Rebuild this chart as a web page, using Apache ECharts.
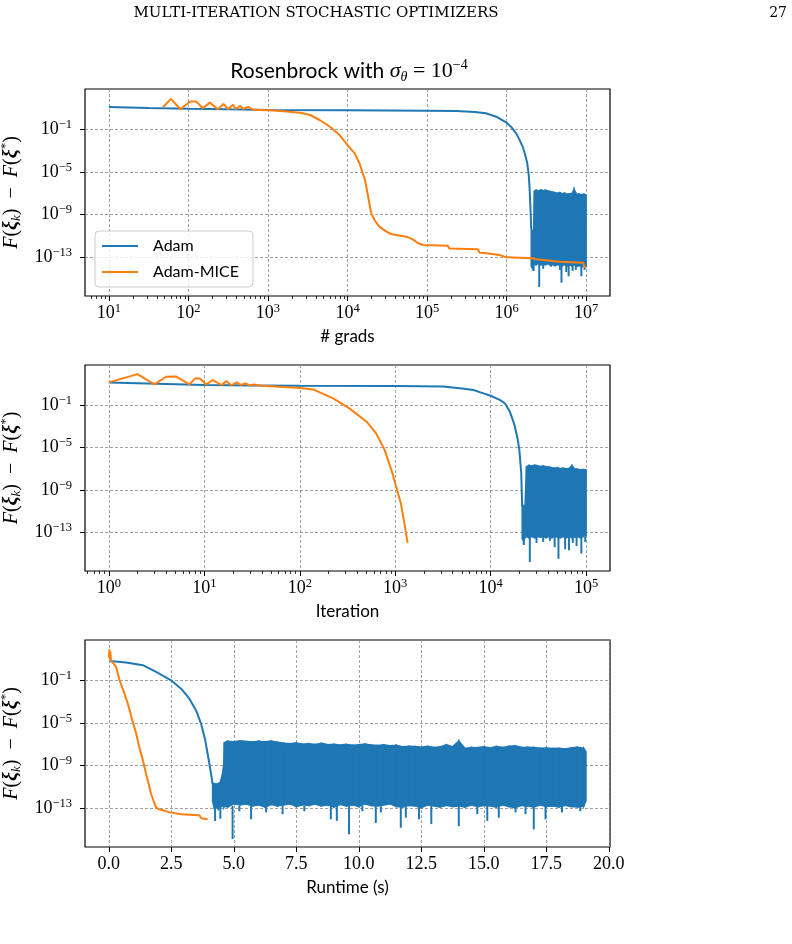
<!DOCTYPE html>
<html>
<head>
<meta charset="utf-8">
<script src="https://cdn.jsdelivr.net/npm/echarts@6/dist/echarts.min.js"></script>
<style>
  html, body { margin: 0; padding: 0; background: #fff; }
  #main { width: 792px; height: 944px; }
</style>
</head>
<body>
<div id="main"></div>
<script>
// all y values are log10(F(xi_k) - F(xi*)); x values of the two upper panels are log10 too

// panel 1: # grads
var gradsAdamX = [1.0, 1.5, 2.0, 2.5, 3.0, 4.0, 5.0, 5.37, 5.6, 5.74, 5.87, 6.0, 6.06, 6.12, 6.16, 6.2, 6.23, 6.26, 6.28, 6.29, 6.3, 6.31];
var gradsAdamY = [1.09, 1.0, 0.93, 0.87, 0.82, 0.78, 0.75, 0.72, 0.62, 0.5, 0.18, -0.38, -0.8, -1.38, -1.95, -2.6, -3.3, -4.2, -5.4, -6.7, -8.4, -10.3];
var gradsMiceX = [1.68, 1.78, 1.9, 2.02, 2.1, 2.18, 2.27, 2.37, 2.44, 2.5, 2.56, 2.6, 2.65, 2.69, 2.75, 2.81, 2.9, 3.0, 3.2, 3.4, 3.53, 3.65, 3.78, 3.9, 4.0, 4.09, 4.15, 4.22, 4.26, 4.29, 4.3, 4.34, 4.4, 4.49, 4.55, 4.61, 4.74, 4.82, 4.89, 4.95, 5.26, 5.28, 5.64, 5.66, 5.75, 5.91, 6.0, 6.33, 6.37, 6.67, 6.96, 6.98, 7.0];
var gradsMiceY = [1.07, 1.85, 0.88, 1.6, 1.6, 0.97, 1.5, 0.88, 1.38, 0.9, 1.3, 0.9, 1.2, 0.9, 1.1, 0.85, 0.82, 0.78, 0.7, 0.55, 0.34, -0.13, -0.76, -1.54, -2.48, -3.26, -4.19, -5.76, -7.33, -8.58, -8.89, -9.52, -10.14, -10.61, -10.83, -10.92, -11.08, -11.33, -11.7, -11.86, -11.93, -12.18, -12.27, -12.58, -12.64, -12.8, -13.02, -13.1, -13.2, -13.43, -13.52, -13.9, -13.9];
var gradsBandX = [6.31, 6.325, 6.34, 6.35, 6.37, 6.40, 6.43, 6.46, 6.49, 6.52, 6.55, 6.58, 6.61, 6.64, 6.67, 6.70, 6.73, 6.76, 6.79, 6.82, 6.85, 6.88, 6.91, 6.94, 6.97, 7.0];
var gradsBandTop = [-10.3, -10.6, -10.4, -6.8, -6.72, -6.78, -6.7, -6.76, -6.72, -6.8, -6.85, -6.9, -6.95, -7.0, -6.95, -7.05, -7.0, -7.1, -7.05, -7.05, -6.65, -7.1, -7.08, -7.15, -7.1, -7.2];
var gradsBandBot = [-13.9, -14.0, -13.7, -13.6, -13.7, -13.6, -13.7, -13.65, -13.7, -13.6, -13.75, -13.7, -13.8, -13.7, -13.75, -13.8, -13.7, -13.8, -13.75, -13.8, -13.7, -13.85, -13.8, -13.9, -13.8, -13.9];
var gradsSpikeX = [6.34, 6.41, 6.46, 6.56, 6.67, 6.69, 6.75, 6.78, 6.83, 6.87, 6.94, 6.98];
var gradsSpikeY = [-14.3, -15.8, -14.1, -13.9, -14.2, -15.4, -14.4, -14.8, -14.3, -14.2, -14.8, -14.2];

// panel 2: iteration
var iterAdamX = [0, 0.5, 1.0, 1.5, 2.0, 3.0, 3.5, 3.7, 3.82, 3.9, 4.0, 4.1, 4.15, 4.2, 4.25, 4.28, 4.3, 4.32, 4.33];
var iterAdamY = [1.14, 1.02, 0.89, 0.85, 0.82, 0.8, 0.76, 0.57, 0.42, 0.17, -0.12, -0.53, -0.85, -1.6, -2.9, -4.1, -5.2, -7.4, -10.6];
var iterMiceX = [0, 0.3, 0.477, 0.6, 0.7, 0.845, 0.9, 0.954, 1.02, 1.09, 1.18, 1.23, 1.28, 1.34, 1.38, 1.43, 1.48, 1.52, 1.6, 2.0, 2.14, 2.35, 2.52, 2.7, 2.8, 2.89, 2.96, 3.01, 3.06, 3.09, 3.13];
var iterMiceY = [1.14, 1.92, 0.95, 1.67, 1.7, 0.95, 1.5, 1.5, 0.95, 1.36, 0.89, 1.26, 0.86, 1.14, 0.89, 1.05, 0.85, 0.95, 0.82, 0.62, 0.48, -0.37, -1.31, -2.57, -3.67, -5.25, -7.13, -8.7, -10.3, -11.85, -13.99];
var iterBandX = [4.33, 4.345, 4.36, 4.375, 4.40, 4.43, 4.46, 4.49, 4.52, 4.55, 4.58, 4.61, 4.64, 4.67, 4.70, 4.73, 4.76, 4.79, 4.82, 4.85, 4.88, 4.91, 4.94, 4.97, 5.0];
var iterBandTop = [-10.6, -10.5, -10.6, -6.8, -6.7, -6.75, -6.68, -6.72, -6.8, -6.75, -6.82, -6.85, -6.9, -6.95, -6.9, -7.0, -6.95, -7.0, -6.98, -6.72, -7.02, -7.05, -7.1, -7.08, -7.12];
var iterBandBot = [-13.6, -13.8, -13.5, -13.4, -13.5, -13.4, -13.5, -13.4, -13.45, -13.4, -13.5, -13.4, -13.5, -13.4, -13.45, -13.5, -13.4, -13.5, -13.4, -13.5, -13.45, -13.4, -13.5, -13.4, -13.3];
var iterSpikeX = [4.347, 4.41, 4.48, 4.55, 4.62, 4.67, 4.71, 4.78, 4.82, 4.86, 4.90, 4.95, 4.99];
var iterSpikeY = [-14.2, -15.8, -14.0, -13.9, -13.8, -14.4, -15.5, -14.6, -14.7, -14.0, -14.3, -15.0, -13.9];

// panel 3: runtime (s)
var timeAdamX = [0.03, 0.69, 1.36, 1.89, 2.49, 2.89, 3.22, 3.49, 3.69, 3.86, 4.0, 4.11, 4.15];
var timeAdamY = [0.82, 0.67, 0.42, -0.22, -1.0, -1.79, -2.73, -3.83, -5.09, -6.66, -8.55, -10.1, -10.75];
var timeMiceX = [0, 0.02, 0.04, 0.06, 0.08, 0.1, 0.29, 0.43, 0.6, 0.76, 0.92, 1.09, 1.22, 1.36, 1.49, 1.6, 1.69, 1.8, 1.89, 2.0, 2.16, 2.43, 2.89, 3.62, 3.7, 3.75, 3.95];
var timeMiceY = [1.14, 1.9, 0.95, 1.7, 0.9, 0.78, 0.25, -1.0, -2.1, -3.2, -4.6, -6.0, -7.3, -8.5, -9.8, -10.8, -11.7, -12.4, -12.95, -13.1, -13.2, -13.4, -13.58, -13.68, -13.95, -13.95, -14.04];
var timeBandX = [4.15, 4.22, 4.3, 4.38, 4.46, 4.54, 4.6, 4.62, 4.75, 5.0, 5.25, 5.5, 5.75, 6.0, 6.25, 6.5, 6.75, 7.0, 7.25, 7.5, 7.75, 8.0, 8.25, 8.5, 8.75, 9.0, 9.25, 9.5, 9.75, 10.0, 10.25, 10.5, 10.75, 11.0, 11.25, 11.5, 11.75, 12.0, 12.25, 12.5, 12.75, 13.0, 13.25, 13.5, 13.75, 14.0, 14.25, 14.5, 14.75, 15.0, 15.25, 15.5, 15.75, 16.0, 16.25, 16.5, 16.75, 17.0, 17.25, 17.5, 17.75, 18.0, 18.25, 18.5, 18.75, 19.0, 19.09];
var timeBandTop = [-10.75, -10.7, -10.75, -10.7, -10.55, -9.9, -8.8, -6.85, -6.72, -6.78, -6.68, -6.75, -6.8, -6.72, -6.78, -6.7, -6.82, -6.9, -6.95, -6.88, -7.0, -6.95, -7.02, -6.92, -7.05, -7.0, -7.08, -7.02, -7.1, -7.05, -6.98, -7.08, -7.12, -7.05, -7.15, -7.1, -7.25, -7.2, -7.22, -7.28, -7.2, -7.3, -7.25, -7.05, -7.25, -6.7, -7.4, -7.3, -7.32, -7.25, -7.35, -7.22, -7.3, -7.2, -7.15, -7.3, -7.28, -7.3, -7.38, -7.35, -7.4, -7.38, -7.45, -7.35, -7.28, -7.4, -7.7];
var timeBandBot = [-12.4, -13.0, -12.9, -13.1, -12.9, -12.8, -12.9, -12.8, -12.9, -12.6, -12.7, -12.6, -12.8, -12.7, -12.9, -12.65, -12.8, -12.7, -12.6, -12.85, -12.7, -12.75, -12.6, -12.8, -12.7, -12.9, -12.65, -12.8, -12.7, -12.85, -12.6, -12.75, -12.8, -12.7, -12.6, -12.85, -12.9, -12.75, -12.8, -12.95, -12.7, -12.8, -12.9, -12.75, -12.85, -12.8, -12.9, -12.7, -12.85, -12.75, -12.8, -12.9, -12.7, -12.85, -12.95, -12.75, -12.8, -12.9, -12.7, -12.85, -12.8, -12.9, -12.75, -12.85, -12.9, -12.8, -12.3];
var timeSpikeX = [4.25, 4.46, 4.95, 5.22, 5.69, 6.29, 6.95, 7.82, 8.88, 9.12, 9.61, 10.14, 10.68, 10.88, 11.68, 11.88, 12.41, 12.9, 14.0, 14.74, 15.14, 15.6, 16.27, 16.67, 17.0, 17.47, 18.13, 18.86];
var timeSpikeY = [-14.2, -14.0, -15.9, -13.3, -14.05, -13.4, -13.57, -13.3, -14.05, -14.2, -15.46, -13.3, -14.4, -13.4, -14.84, -13.9, -14.05, -14.5, -14.7, -13.57, -14.2, -13.9, -13.4, -13.57, -15.0, -14.05, -13.4, -13.3];

// ticks
var gradsTicks = [1, 2, 3, 4, 5, 6, 7];
var iterTicks = [0, 1, 2, 3, 4, 5];
var timeTicks = [0, 2.5, 5, 7.5, 10, 12.5, 15, 17.5, 20];
var yTicks = [-13, -9, -5, -1];

var C_ADAM = '#1f77b4';
var C_MICE = '#ff7f0e';
var SERIF = '"Liberation Serif", "DejaVu Serif", serif';
var SANS = 'Lato, "Open Sans", sans-serif';
var YMIN = -16.65, YMAX = 2.78;

function pairs(xs, ys) { return xs.map(function (x, i) { return [x, ys[i]]; }); }
function triples(xs, a, b) { return xs.map(function (x, i) { return [x, a[i], b[i]]; }); }

function minorTicks(lo, hi) {
    var out = [];
    for (var n = Math.floor(lo); n <= Math.ceil(hi); n++) {
        for (var k = 2; k <= 9; k++) {
            var v = n + Math.log10(k);
            if (v > lo && v < hi) out.push(v);
        }
    }
    return out;
}

function powLabel(v) {
    var e = Math.round(v);
    return '{b|10}{s|' + (e < 0 ? '\u2212' + (-e) : e) + '}';
}
var powRich = {
    b: { fontFamily: SERIF, fontSize: 18, color: '#000', lineHeight: 22 },
    s: { fontFamily: SERIF, fontSize: 12.5, color: '#000', lineHeight: 12, verticalAlign: 'top' }
};
var gridLine = { show: true, lineStyle: { color: '#8a8a8a', type: [3, 2], width: 0.8 } };

function majorX(g, min, max, ticks, fmt, name) {
    return {
        type: 'value', gridIndex: g, min: min, max: max, position: 'bottom',
        name: name, nameLocation: 'middle', nameGap: 32,
        nameTextStyle: { fontFamily: SANS, fontSize: 17, color: '#000' },
        axisLine: { show: false, onZero: false },
        axisTick: { show: true, length: 5, customValues: ticks, lineStyle: { color: '#000', width: 1 } },
        axisLabel: { customValues: ticks, formatter: fmt, rich: powRich, margin: 6, color: '#000', fontFamily: SERIF, fontSize: 18, lineHeight: 22 },
        splitLine: gridLine
    };
}
function minorX(g, min, max) {
    return {
        type: 'value', gridIndex: g, min: min, max: max, position: 'bottom',
        axisLine: { show: false, onZero: false },
        axisTick: { show: true, length: 3, customValues: minorTicks(min, max), lineStyle: { color: '#000', width: 0.8 } },
        axisLabel: { show: false },
        splitLine: { show: false }
    };
}
var yNameRich = {
    i: { fontFamily: SERIF, fontStyle: 'italic', fontSize: 20, lineHeight: 24, color: '#000' },
    r: { fontFamily: SERIF, fontSize: 20, lineHeight: 24, color: '#000' },
    bi: { fontFamily: SERIF, fontStyle: 'italic', fontWeight: 'bold', fontSize: 20, lineHeight: 24, color: '#000' },
    sub: { fontFamily: SERIF, fontStyle: 'italic', fontSize: 13, lineHeight: 13, verticalAlign: 'bottom', color: '#000' },
    sup: { fontFamily: SERIF, fontSize: 13, lineHeight: 13, verticalAlign: 'top', color: '#000' }
};
function yAxis(g) {
    return {
        type: 'value', gridIndex: g, min: YMIN, max: YMAX,
        name: '{i|F}{r|(}{bi|\u03be}{sub|k}{r|)\u2002\u2212\u2002}{i|F}{r|(}{bi|\u03be}{sup|*}{r|)}',
        nameLocation: 'middle', nameGap: 50, nameRotate: 90,
        nameTextStyle: { rich: yNameRich },
        axisLine: { show: false, onZero: false },
        axisTick: { show: true, length: 5, customValues: yTicks, lineStyle: { color: '#000', width: 1 } },
        axisLabel: { customValues: yTicks, formatter: powLabel, rich: powRich, margin: 13 },
        splitLine: gridLine
    };
}

function adamLine(i, xs, ys) {
    return { name: 'Adam', type: 'line', xAxisIndex: i, yAxisIndex: i, data: pairs(xs, ys),
        showSymbol: false, symbol: 'none', lineStyle: { color: C_ADAM, width: 2 }, itemStyle: { color: C_ADAM }, z: 2 };
}
function miceLine(i, xs, ys) {
    return { name: 'Adam-MICE', type: 'line', xAxisIndex: i, yAxisIndex: i, data: pairs(xs, ys),
        showSymbol: false, symbol: 'none', lineStyle: { color: C_MICE, width: 2 }, itemStyle: { color: C_MICE }, z: 4 };
}
// noisy stretch: quads between consecutive (x, top, bottom) samples
function adamBand(i, xs, top, bot) {
    return {
        name: 'Adam', type: 'custom', xAxisIndex: i, yAxisIndex: i, data: triples(xs, top, bot),
        encode: { x: 0, y: [1, 2] }, itemStyle: { color: C_ADAM }, z: 2,
        renderItem: function (params, api) {
            var k = params.dataIndexInside;
            if (k >= params.dataInsideLength - 1) return;
            var p1 = api.coord([api.value(0, k), api.value(1, k)]);
            var p2 = api.coord([api.value(0, k + 1), api.value(1, k + 1)]);
            var p3 = api.coord([api.value(0, k + 1), api.value(2, k + 1)]);
            var p4 = api.coord([api.value(0, k), api.value(2, k)]);
            return { type: 'polygon', shape: { points: [p1, p2, p3, p4] },
                style: { fill: C_ADAM, stroke: C_ADAM, lineWidth: 1.5 } };
        }
    };
}
function adamSpikes(i, xs, ys, base) {
    return {
        name: 'Adam', type: 'custom', xAxisIndex: i, yAxisIndex: i, data: pairs(xs, ys),
        encode: { x: 0, y: 1 }, itemStyle: { color: C_ADAM }, z: 2,
        renderItem: function (params, api) {
            var x = api.value(0);
            var a = api.coord([x, base]);
            var b = api.coord([x, api.value(1)]);
            return { type: 'line', shape: { x1: a[0], y1: a[1], x2: b[0], y2: b[1] },
                style: { stroke: C_ADAM, lineWidth: 2 } };
        }
    };
}

var gridBox = { show: true, borderColor: '#000', borderWidth: 1.2, backgroundColor: 'transparent', containLabel: false, outerBoundsMode: 'none' };

var chart = echarts.init(document.getElementById('main'));
chart.setOption({
    animation: false,
    backgroundColor: '#fff',
    grid: [
        Object.assign({ left: 85, top: 89, width: 525, height: 207 }, gridBox),
        Object.assign({ left: 85, top: 365, width: 525, height: 206 }, gridBox),
        Object.assign({ left: 85, top: 640, width: 525, height: 207 }, gridBox)
    ],
    xAxis: [
        majorX(0, 0.7, 7.3, gradsTicks, powLabel, '# grads'),
        majorX(1, -0.25, 5.25, iterTicks, powLabel, 'Iteration'),
        majorX(2, -0.955, 20.05, timeTicks, function (v) { return v.toFixed(1); }, 'Runtime (s)'),
        minorX(0, 0.7, 7.3),
        minorX(1, -0.25, 5.25)
    ],
    yAxis: [yAxis(0), yAxis(1), yAxis(2)],
    legend: {
        data: ['Adam', 'Adam-MICE'], orient: 'vertical', left: 95, top: 231,
        icon: 'rect', itemWidth: 36, itemHeight: 2.2, itemGap: 8,
        padding: [6, 14, 6, 7], backgroundColor: 'rgba(255,255,255,0.8)',
        borderColor: '#cccccc', borderWidth: 1, borderRadius: 4, selectedMode: false,
        textStyle: { fontFamily: SANS, fontSize: 16, color: '#000', lineHeight: 18, padding: [0, 0, 0, 10] }
    },
    graphic: [
        { type: 'text', x: 316, y: 13, style: { text: 'MULTI-ITERATION STOCHASTIC OPTIMIZERS', fontFamily: '"DejaVu Serif", serif', fontSize: 15, fill: '#000', align: 'center', verticalAlign: 'middle' } },
        { type: 'text', x: 787, y: 13, style: { text: '27', fontFamily: '"DejaVu Serif", serif', fontSize: 14, fill: '#000', align: 'right', verticalAlign: 'middle' } },
        { type: 'text', x: 349, y: 71, style: {
            text: '{s|Rosenbrock with }{m|\u03c3}{sub|\u03b8}{r| = 10}{sup|\u22124}',
            align: 'center', verticalAlign: 'middle',
            rich: {
                s: { fontFamily: SANS, fontSize: 21, lineHeight: 26, fill: '#000' },
                m: { fontFamily: SERIF, fontStyle: 'italic', fontSize: 22, lineHeight: 26, fill: '#000' },
                sub: { fontFamily: SERIF, fontStyle: 'italic', fontSize: 14, lineHeight: 14, verticalAlign: 'bottom', fill: '#000' },
                r: { fontFamily: SERIF, fontSize: 22, lineHeight: 26, fill: '#000' },
                sup: { fontFamily: SERIF, fontSize: 14, lineHeight: 14, verticalAlign: 'top', fill: '#000' }
            }
        } }
    ],
    series: [
        adamLine(0, gradsAdamX, gradsAdamY),
        adamBand(0, gradsBandX, gradsBandTop, gradsBandBot),
        adamSpikes(0, gradsSpikeX, gradsSpikeY, -13.6),
        miceLine(0, gradsMiceX, gradsMiceY),
        adamLine(1, iterAdamX, iterAdamY),
        adamBand(1, iterBandX, iterBandTop, iterBandBot),
        adamSpikes(1, iterSpikeX, iterSpikeY, -13.4),
        miceLine(1, iterMiceX, iterMiceY),
        adamLine(2, timeAdamX, timeAdamY),
        adamBand(2, timeBandX, timeBandTop, timeBandBot),
        adamSpikes(2, timeSpikeX, timeSpikeY, -12.8),
        miceLine(2, timeMiceX, timeMiceY)
    ]
});
</script>
</body>
</html>
